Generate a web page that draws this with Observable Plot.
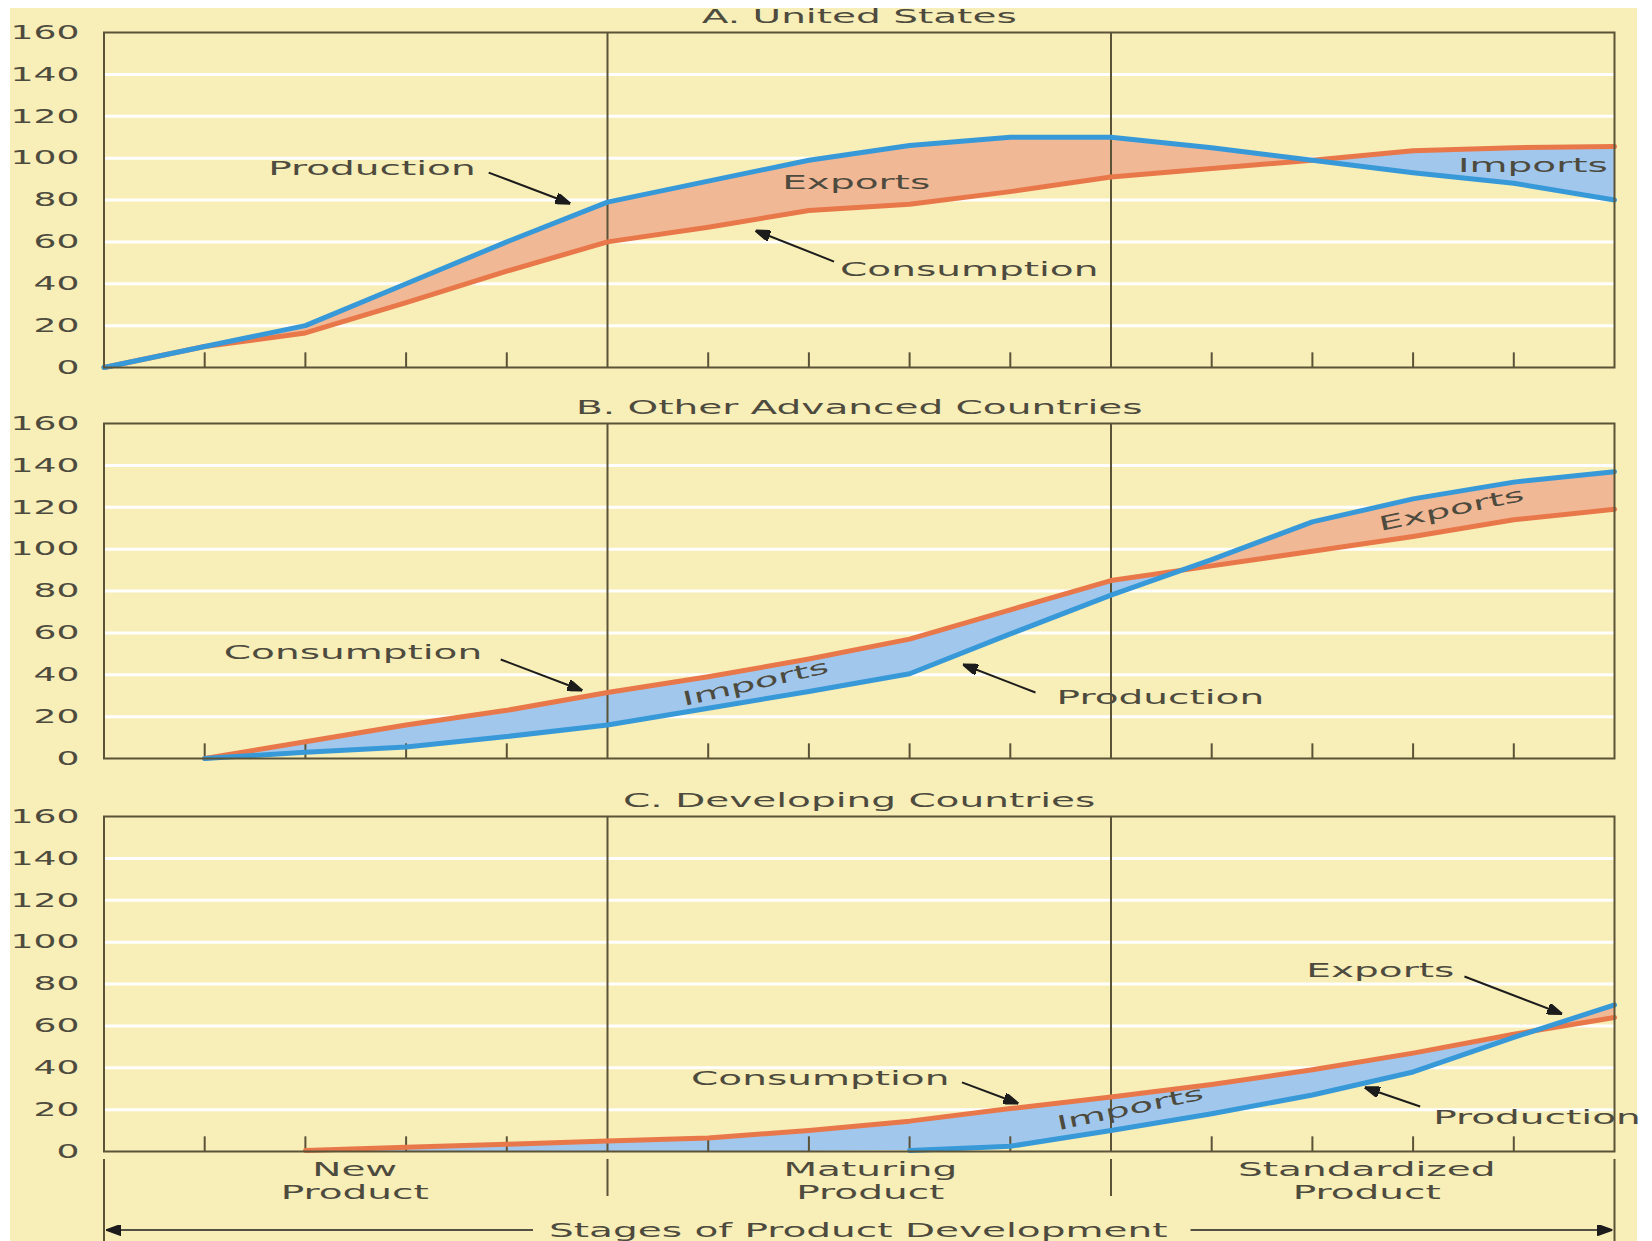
<!DOCTYPE html>
<html>
<head>
<meta charset="utf-8">
<script src="https://cdn.jsdelivr.net/npm/d3@7"></script>
<script src="https://cdn.jsdelivr.net/npm/@observablehq/plot@0.6"></script>
<style>
  body { margin: 0; background: #ffffff; }
  #wrap { position: relative; width: 1652px; height: 1241px; overflow: hidden; }
  #bg { position: absolute; left: 10px; top: 8px; width: 1627px; height: 1233px; background: #f8eeb7; }
  .panel { position: absolute; left: 0; }
  .panel svg { overflow: visible; }
</style>
</head>
<body>
<div id="wrap"><div id="bg"></div></div>
<script>
// ---------- data ----------
const steps = [0, 1, 2, 3, 4, 5, 6, 7, 8, 9, 10, 11, 12, 13, 14, 15];
const yTicks = [0, 20, 40, 60, 80, 100, 120, 140, 160];
const gridValues = [20, 40, 60, 80, 100, 120, 140];
const stageBounds = [5, 10];
const minorTicks = [1, 2, 3, 4, 6, 7, 8, 9, 11, 12, 13, 14];

const usProduction   = [0, 10, 20, 40, 60, 79, 89, 99, 106, 110, 110, 105, 99, 93, 88, 80];
const usConsumption  = [0, 10, 16.5, 31, 46, 60, 67, 75, 78, 84, 91, 95, 99, 103.5, 105, 105.5];
const oacProduction  = [null, 0, 3, 5.5, 10.5, 16, 24, 32, 40.5, 59.5, 78, 95, 113, 124, 132, 137];
const oacConsumption = [null, 0, 8, 16, 23, 31.5, 39, 47.5, 57, 71, 85, 92, 99, 106, 114, 119];
const ldcProduction  = [null, null, null, null, null, null, null, null, 0.5, 2.5, 10, 18, 27, 38, 54.5, 70];
const ldcConsumption = [null, null, 0.5, 2, 3.5, 5, 6.5, 10, 14.5, 20.5, 26, 32, 39, 47, 56, 64];

const panelTitles = ["A. United States", "B. Other Advanced Countries", "C. Developing Countries"];

const usLabels = [
  {text: "Production", x: 1.63, y: 94.7, anchor: "start", rotate: 0},
  {text: "Exports", x: 7.47, y: 88.3, anchor: "middle", rotate: 0},
  {text: "Consumption", x: 7.31, y: 46.9, anchor: "start", rotate: 0},
  {text: "Imports", x: 14.19, y: 96.5, anchor: "middle", rotate: 0}
];
const usArrows = [
  {x1: 3.82, y1: 93.1, x2: 4.63, y2: 78.3},
  {x1: 7.25, y1: 50.6, x2: 6.47, y2: 65.4}
];
const oacLabels = [
  {text: "Consumption", x: 1.19, y: 50.6, anchor: "start", rotate: 0},
  {text: "Imports", x: 6.47, y: 36.0, anchor: "middle", rotate: -13},
  {text: "Production", x: 9.46, y: 28.9, anchor: "start", rotate: 0},
  {text: "Exports", x: 13.38, y: 118.9, anchor: "middle", rotate: -12}
];
const oacArrows = [
  {x1: 3.94, y1: 47.3, x2: 4.75, y2: 32.5},
  {x1: 9.25, y1: 31.5, x2: 8.53, y2: 44.9}
];
const ldcLabels = [
  {text: "Exports", x: 11.94, y: 86.4, anchor: "start", rotate: 0},
  {text: "Consumption", x: 5.83, y: 34.9, anchor: "start", rotate: 0},
  {text: "Imports", x: 10.19, y: 20.5, anchor: "middle", rotate: -12},
  {text: "Production", x: 13.2, y: 16.2, anchor: "start", rotate: 0}
];
const ldcArrows = [
  {x1: 13.51, y1: 83.6, x2: 14.48, y2: 65.7},
  {x1: 8.52, y1: 33.0, x2: 9.08, y2: 22.9},
  {x1: 13.07, y1: 21.5, x2: 12.52, y2: 30.6}
];

const stageWords1 = ["New", "Maturing", "Standardized"];
const stageWords2 = ["Product", "Product", "Product"];
const stageCenters = [2.49, 7.61, 12.54];
const stageAxisTitle = "Stages of Product Development";
const stageAxisArrows = [
  {x1: 4.26, y1: -37.5, x2: 0.02, y2: -37.5},
  {x1: 10.79, y1: -37.5, x2: 14.98, y2: -37.5}
];
const innerDividers = [5, 10];
const outerDividers = [0, 15];

// ---------- style ----------
const FONT = "DejaVu Sans";
const FS = 19.5;
const FRAME = "#5b5338";
const TEXT = "#4d4a3e";
const BLUE = "#3899d8";
const ORANGE = "#e8784a";
const BLUEFILL = "#a2c7ec";
const ORANGEFILL = "#f1b896";
const ARROW = "#1c1c1c";

const filledArrow = (color) => {
  const m = d3.create("svg:marker")
    .attr("viewBox", "-14 -5 14 10")
    .attr("markerWidth", 15).attr("markerHeight", 11)
    .attr("markerUnits", "userSpaceOnUse")
    .attr("refX", 0).attr("refY", 0)
    .attr("orient", "auto");
  m.append("path").attr("d", "M0,0L-14,-5L-14,5Z").attr("fill", ARROW);
  return m.node();
};

function rows(prod, cons) {
  return steps.map((s, i) => ({x: s, p: prod[i], c: cons[i]}));
}

function labelMarks(labels) {
  const starts = labels.filter(d => d.anchor === "start");
  const mids = labels.filter(d => d.anchor === "middle");
  return [
    Plot.text(starts, {x: "x", y: "y", text: "text", rotate: "rotate", textAnchor: "start", fill: TEXT, fontSize: FS, fontFamily: FONT}),
    Plot.text(mids, {x: "x", y: "y", text: "text", rotate: "rotate", textAnchor: "middle", fill: TEXT, fontSize: FS, fontFamily: FONT})
  ];
}

function areaMarks(data) {
  const filled = data.filter(d => d.c != null).map(d => ({x: d.x, c: d.c, p: d.p ?? 0}));
  if (typeof Plot.differenceY === "function") {
    return [Plot.differenceY(filled, {x: "x", y1: "c", y2: "p", positiveFill: ORANGEFILL, negativeFill: BLUEFILL, fillOpacity: 1, stroke: "none"})];
  }
  return [
    Plot.areaY(filled, {x: "x", y1: "c", y2: d => Math.max(d.p, d.c), fill: ORANGEFILL}),
    Plot.areaY(filled, {x: "x", y1: "p", y2: d => Math.max(d.p, d.c), fill: BLUEFILL})
  ];
}

function panel(title, prod, cons, labels, arrows, bottomExtra, marginBottom) {
  const data = rows(prod, cons);
  return Plot.plot({
    width: 1652,
    height: 32 + 335 + marginBottom,
    marginLeft: 103.5,
    marginRight: 38,
    marginTop: 32,
    marginBottom: marginBottom,
    style: {background: "transparent", fontFamily: FONT, overflow: "visible"},
    x: {domain: [0, 15], axis: null},
    y: {domain: [0, 160], axis: null},
    marks: [
      Plot.ruleY(gridValues, {stroke: "#ffffff", strokeWidth: 3}),
      ...areaMarks(data),
      Plot.ruleX(stageBounds, {stroke: FRAME, strokeWidth: 2}),
      Plot.ruleX(minorTicks, {y1: 0, y2: 7, stroke: FRAME, strokeWidth: 2}),
      Plot.line(data, {x: "x", y: "c", stroke: ORANGE, strokeWidth: 5, strokeLinejoin: "round"}),
      Plot.line(data, {x: "x", y: "p", stroke: BLUE, strokeWidth: 5, strokeLinejoin: "round"}),
      Plot.frame({stroke: FRAME, strokeWidth: 2}),
      Plot.axisY({ticks: yTicks, tickSize: 0, tickPadding: 24.5, fontSize: FS, fill: TEXT, label: null, fontFamily: FONT}),
      Plot.text([title], {frameAnchor: "top", dy: -23.5, fill: TEXT, fontSize: FS, fontFamily: FONT}),
      ...labelMarks(labels),
      Plot.link(arrows, {x1: "x1", y1: "y1", x2: "x2", y2: "y2", stroke: ARROW, strokeWidth: 2, markerEnd: filledArrow}),
      ...bottomExtra
    ]
  });
}

const stageMarks = [
  Plot.ruleX(innerDividers, {y1: -3.8, y2: -21.5, stroke: FRAME, strokeWidth: 2}),
  Plot.ruleX(outerDividers, {y1: -3.8, y2: -45, stroke: FRAME, strokeWidth: 2}),
  Plot.text(stageWords1, {x: (d, i) => stageCenters[i], frameAnchor: "bottom", dy: 24.5, fill: TEXT, fontSize: FS, fontFamily: FONT}),
  Plot.text(stageWords2, {x: (d, i) => stageCenters[i], frameAnchor: "bottom", dy: 47, fill: TEXT, fontSize: FS, fontFamily: FONT}),
  Plot.text([stageAxisTitle], {x: 7.49, y: -37.5, dy: 1, fill: TEXT, fontSize: FS, fontFamily: FONT}),
  Plot.link(stageAxisArrows, {x1: "x1", y1: "y1", x2: "x2", y2: "y2", stroke: ARROW, strokeWidth: 1.5, markerEnd: filledArrow})
];

function stretch(svg, k, kTick) {
  svg.querySelectorAll("text").forEach(t => {
    const tick = t.closest('g[aria-label="y-axis tick label"]');
    const f = tick ? kTick : k;
    const tspans = t.querySelectorAll("tspan");
    const targets = tspans.length ? Array.from(tspans) : [t];
    targets.forEach(el => {
      const len = el.getComputedTextLength();
      if (len > 0) {
        el.setAttribute("textLength", (len * f).toFixed(1));
        el.setAttribute("lengthAdjust", "spacingAndGlyphs");
      }
    });
  });
}

const wrap = document.getElementById("wrap");
const specs = [
  {top: 0, fig: panel(panelTitles[0], usProduction, usConsumption, usLabels, usArrows, [], 18)},
  {top: 391, fig: panel(panelTitles[1], oacProduction, oacConsumption, oacLabels, oacArrows, [], 18)},
  {top: 784, fig: panel(panelTitles[2], ldcProduction, ldcConsumption, ldcLabels, ldcArrows, stageMarks, 90)}
];
specs.forEach(({top, fig}) => {
  const div = document.createElement("div");
  div.className = "panel";
  div.style.top = top + "px";
  div.appendChild(fig);
  wrap.appendChild(div);
  stretch(fig, 2.0, 1.85);
});
</script>
</body>
</html>
